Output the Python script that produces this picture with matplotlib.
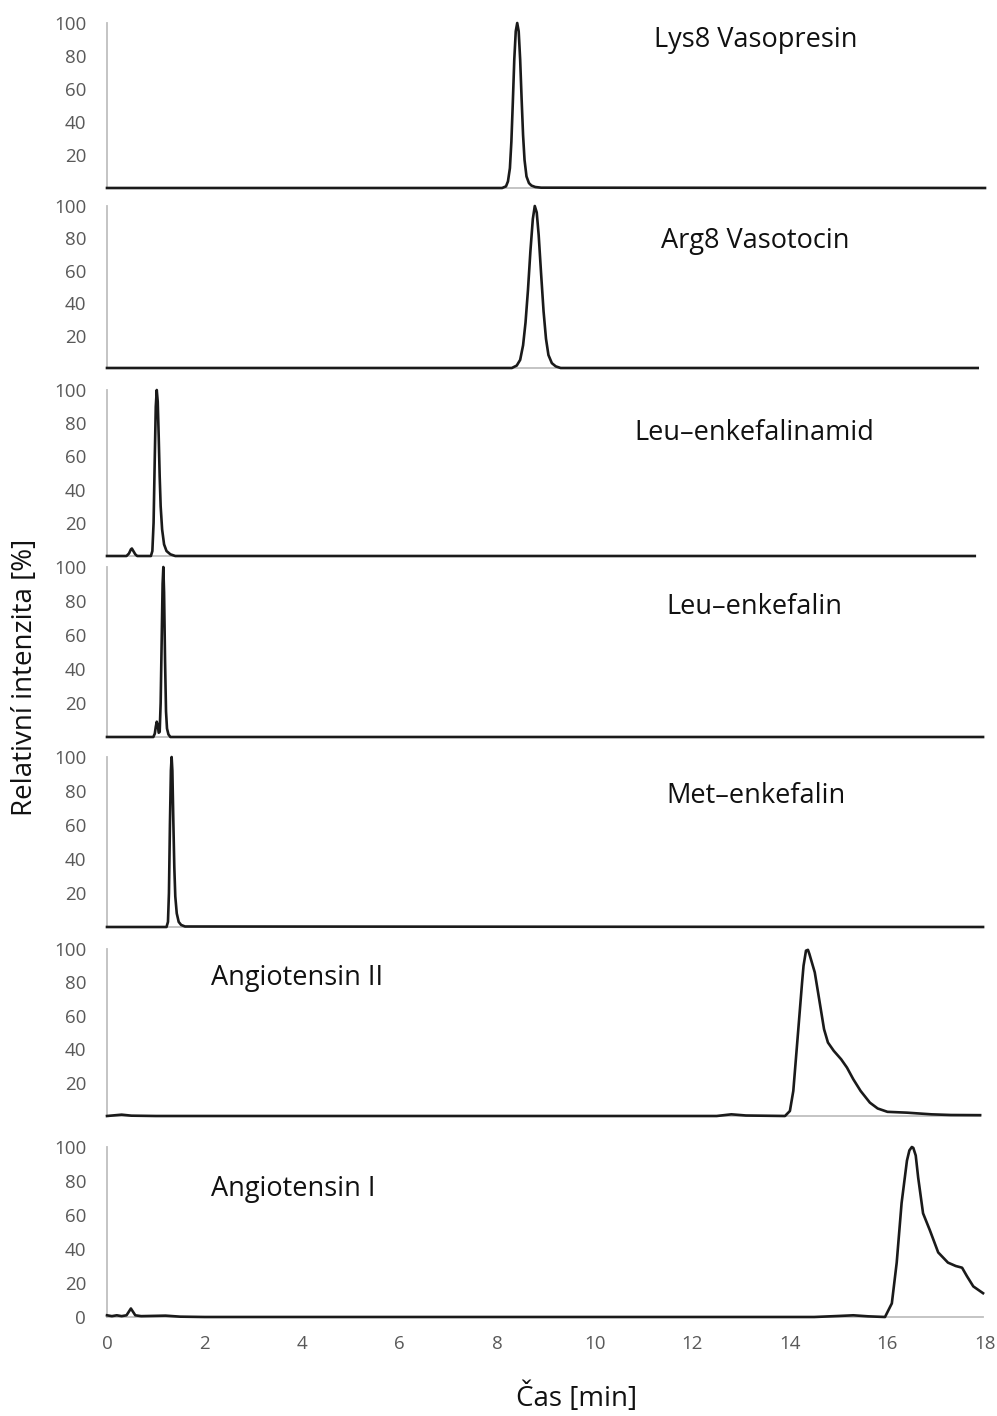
import matplotlib
matplotlib.use("Agg")
import matplotlib.pyplot as plt

# ---------------- data ----------------
names = ["Lys8 Vasopresin", "Arg8 Vasotocin", "Leu\u2013enkefalinamid",
         "Leu\u2013enkefalin", "Met\u2013enkefalin", "Angiotensin II", "Angiotensin I"]

t_lys = [0, 8.1, 8.18, 8.22, 8.26, 8.29, 8.32, 8.35, 8.38, 8.41, 8.44, 8.47, 8.5, 8.53,
         8.56, 8.6, 8.65, 8.7, 8.78, 8.9, 18.0]
i_lys = [0, 0, 1, 4, 12, 28, 52, 78, 95, 100, 95, 78, 54, 32,
         17, 7, 3, 1.5, 0.6, 0.2, 0]

t_arg = [0, 8.3, 8.4, 8.47, 8.53, 8.58, 8.63, 8.68, 8.73, 8.77, 8.81, 8.85, 8.9, 8.95,
         9.0, 9.05, 9.12, 9.2, 9.3, 17.85]
i_arg = [0, 0, 1.5, 5, 14, 28, 48, 72, 92, 100, 96, 82, 58, 35,
         18, 8, 3, 1, 0, 0]

t_leuam = [0, 0.4, 0.45, 0.49, 0.51, 0.54, 0.58, 0.62, 0.9, 0.93, 0.955, 0.98, 1.0, 1.02,
           1.04, 1.06, 1.08, 1.1, 1.13, 1.17, 1.22, 1.3, 1.4, 17.79]
i_leuam = [0, 0, 1.5, 4, 4.5, 3, 1, 0, 0, 3, 20, 60, 90, 100,
           93, 72, 48, 30, 16, 7, 3, 1, 0, 0]

t_leu = [0, 0.95, 0.98, 1.0, 1.02, 1.04, 1.06, 1.08, 1.1, 1.12, 1.14, 1.155, 1.17, 1.19,
         1.21, 1.23, 1.26, 1.3, 17.96]
i_leu = [0, 0, 2, 6, 9, 7, 2.5, 3, 20, 55, 90, 100, 85, 45,
         15, 5, 1.5, 0, 0]

t_met = [0, 1.22, 1.25, 1.27, 1.29, 1.31, 1.325, 1.34, 1.36, 1.38, 1.4, 1.43, 1.47, 1.52,
         1.6, 17.96]
i_met = [0, 0, 3, 20, 60, 92, 100, 92, 62, 35, 18, 8, 3, 1.2,
         0.3, 0]

t_ang2 = [0, 0.3, 0.5, 1.0, 12.5, 12.8, 13.1, 13.9, 14.0, 14.07, 14.17, 14.25, 14.28,
          14.33, 14.37, 14.4, 14.44, 14.51, 14.6, 14.7, 14.78, 14.9, 15.05, 15.17, 15.3,
          15.45, 15.64, 15.8, 16.0, 16.4, 16.9, 17.3, 17.9]
i_ang2 = [0, 0.8, 0.2, 0, 0, 1, 0.3, 0, 3, 15, 51, 80, 90,
          99, 99.5, 97, 93, 86, 70, 52, 44, 39, 34, 29, 22,
          15, 8, 4.5, 2.5, 2, 1, 0.6, 0.5]

t_ang1 = [0, 0.1, 0.2, 0.3, 0.4, 0.49, 0.58, 0.7, 1.2, 1.5, 2.0, 14.5, 15.0, 15.3, 15.6,
          15.95, 16.09, 16.19, 16.29, 16.4, 16.45, 16.5, 16.53, 16.58, 16.63, 16.73,
          16.87, 17.04, 17.24, 17.4, 17.53, 17.63, 17.76, 17.96]
i_ang1 = [1, 0.5, 1, 0.5, 1, 5, 1, 0.5, 0.8, 0.2, 0, 0, 0.6, 1, 0.4,
          0, 8, 32, 67, 92, 98, 100, 99.5, 95, 82, 61,
          51, 38, 32, 30, 29, 24, 18, 14]

times = [t_lys, t_arg, t_leuam, t_leu, t_met, t_ang2, t_ang1]
intens = [i_lys, i_arg, i_leuam, i_leu, i_met, i_ang2, i_ang1]

y_ticks_upper = [20, 40, 60, 80, 100]
y_ticks_last = [0, 20, 40, 60, 80, 100]
x_ticks = [0, 2, 4, 6, 8, 10, 12, 14, 16, 18]

# ---------------- layout (pixel positions of y=100 and y=0) ----------------
W, H = 997, 1416
panels_px = [(23, 188), (206, 368), (390, 556), (567, 737), (757, 927), (949, 1116), (1147, 1317)]
x0_px, x18_px = 107, 985

label_pos = [("c", 756, 40), ("c", 755, 241), ("c", 754, 433), ("c", 754, 607),
             ("c", 756, 796), ("l", 211, 978), ("l", 211, 1189)]

plt.rcParams['font.family'] = ['Open Sans', 'DejaVu Sans']
fig = plt.figure(figsize=(W / 100, H / 100), dpi=100)

tick_color = "#595959"
axis_gray = "#bfbfbf"

for k in range(7):
    ytop, ybot = panels_px[k]
    ax = fig.add_axes([x0_px / W, 1 - ybot / H, (x18_px - x0_px) / W, (ybot - ytop) / H])
    ax.set_xlim(0, 18)
    ax.set_ylim(0, 100)
    ax.plot(times[k], intens[k], color="#1a1a1a", lw=1.9, clip_on=False, zorder=3,
            solid_joinstyle="round")
    for s in ["top", "right"]:
        ax.spines[s].set_visible(False)
    ax.spines["left"].set_color(axis_gray)
    ax.spines["left"].set_linewidth(1.3)
    ax.spines["bottom"].set_color(axis_gray)
    ax.spines["bottom"].set_linewidth(1.3)
    ax.spines["bottom"].set_bounds(0, times[k][-1])
    last = (k == 6)
    ax.set_yticks(y_ticks_last if last else y_ticks_upper)
    ax.tick_params(axis="y", length=0, pad=15, labelsize=13.5, labelcolor=tick_color)
    if last:
        ax.set_xticks(x_ticks)
        ax.tick_params(axis="x", length=0, pad=13, labelsize=13.5, labelcolor=tick_color)
    else:
        ax.set_xticks([])
    al, xp, yp = label_pos[k]
    fig.text(xp / W, 1 - yp / H, names[k], ha="center" if al == "c" else "left",
             va="center", fontsize=19.5, color="#111111")

fig.text(25 / W, 1 - 677 / H, "Relativní intenzita [%]", rotation=90, ha="center",
         va="center", fontsize=20, color="#111111")
fig.text(577 / W, 1 - 1398 / H, "Čas [min]", ha="center", va="center",
         fontsize=20, color="#111111")

fig.savefig("out.png", dpi=100, facecolor="white")
